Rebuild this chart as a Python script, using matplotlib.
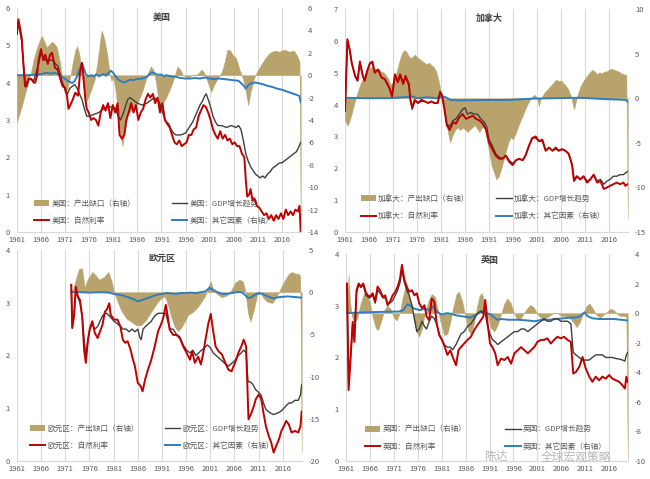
import matplotlib
matplotlib.use("Agg")
import matplotlib.pyplot as plt
from matplotlib.patches import Patch
from matplotlib.lines import Line2D

plt.rcParams['font.family'] = ['Noto Sans CJK SC', 'DejaVu Sans']
plt.rcParams['axes.unicode_minus'] = False

# ---------------- US ----------------
us_rate_x = [1961.0, 1961.3, 1961.6, 1962.0, 1962.4, 1962.7, 1963.0, 1963.4, 1964.0, 1964.5, 1964.8, 1965.2, 1965.5, 1966.0, 1966.5, 1966.9, 1967.4, 1967.9, 1968.3, 1968.9, 1969.5, 1970.0, 1970.5, 1971.0, 1971.4, 1971.7, 1972.1, 1972.6, 1973.1, 1973.7, 1974.1, 1974.5, 1974.8, 1975.2, 1975.5, 1975.9, 1976.4, 1976.9, 1977.4, 1977.9, 1978.4, 1978.9, 1979.4, 1979.9, 1980.4, 1980.9, 1981.4, 1981.9, 1982.3, 1982.8, 1983.3, 1983.7, 1984.2, 1984.7, 1985.2, 1985.7, 1986.2, 1986.7, 1987.2, 1987.7, 1988.2, 1988.7, 1989.2, 1989.7, 1990.2, 1990.7, 1991.2, 1991.7, 1992.2, 1992.7, 1993.2, 1993.7, 1994.2, 1994.7, 1995.2, 1995.7, 1996.2, 1996.7, 1997.2, 1997.7, 1998.2, 1998.7, 1999.2, 1999.7, 2000.2, 2000.7, 2001.2, 2001.7, 2002.2, 2002.7, 2003.2, 2003.7, 2004.2, 2004.7, 2005.2, 2005.7, 2006.2, 2006.7, 2007.2, 2007.7, 2008.2, 2008.5, 2008.8, 2009.2, 2009.5, 2009.9, 2010.3, 2010.8, 2011.3, 2011.8, 2012.3, 2012.8, 2013.3, 2013.8, 2014.3, 2014.8, 2015.3, 2015.8, 2016.3, 2016.8, 2017.3, 2017.8, 2018.3, 2018.8, 2019.3, 2019.65, 2019.9]
us_rate_y = [5.3, 5.7, 5.5, 5.2, 4.4, 3.9, 3.9, 4.1, 4.1, 4.0, 4.0, 4.2, 4.6, 4.9, 4.6, 4.75, 4.5, 4.75, 4.8, 4.4, 4.35, 4.1, 3.9, 3.87, 3.65, 3.3, 3.4, 3.55, 3.73, 3.65, 4.27, 4.53, 4.18, 3.55, 3.3, 3.2, 3.0, 3.05, 3.0, 2.85, 3.2, 3.4, 3.25, 3.45, 3.05, 3.4, 3.2, 3.45, 2.6, 2.5, 2.6, 3.0, 3.2, 3.45, 3.2, 3.4, 3.0, 3.2, 3.3, 3.55, 3.7, 3.6, 3.7, 3.45, 3.6, 3.2, 3.45, 3.0, 2.9, 2.8, 2.6, 2.4, 2.35, 2.45, 2.3, 2.35, 2.4, 2.6, 2.6, 2.75, 2.8, 3.1, 3.25, 3.4, 3.35, 3.2, 3.0, 2.75, 2.6, 2.5, 2.7, 2.5, 2.6, 2.45, 2.5, 2.35, 2.4, 2.3, 2.3, 2.1, 2.0, 1.4, 0.95, 1.0, 1.15, 0.85, 0.9, 0.7, 0.65, 0.55, 0.45, 0.5, 0.35, 0.45, 0.3, 0.45, 0.35, 0.5, 0.35, 0.6, 0.45, 0.55, 0.45, 0.6, 0.55, 0.7, 0.0]

us_gdp_x = [1961.0, 1961.3, 1962.0, 1962.7, 1963.5, 1964.5, 1965.5, 1966.0, 1966.9, 1967.9, 1968.5, 1969.0, 1969.5, 1970.0, 1970.5, 1971.0, 1971.5, 1972.0, 1972.5, 1973.0, 1973.5, 1974.0, 1974.5, 1975.0, 1975.5, 1976.0, 1977.0, 1978.0, 1979.0, 1980.0, 1981.0, 1981.5, 1982.0, 1982.5, 1983.0, 1983.5, 1984.0, 1984.5, 1985.0, 1985.5, 1986.0, 1987.0, 1988.0, 1989.0, 1989.5, 1990.0, 1990.5, 1991.0, 1991.5, 1992.0, 1992.5, 1993.0, 1993.5, 1994.0, 1995.0, 1996.0, 1996.5, 1997.0, 1997.5, 1998.0, 1998.5, 1999.0, 1999.5, 2000.0, 2000.3, 2000.7, 2001.2, 2001.7, 2002.2, 2002.7, 2003.5, 2004.5, 2005.5, 2006.5, 2007.0, 2007.5, 2008.0, 2008.5, 2009.0, 2009.5, 2010.0, 2010.5, 2011.0, 2011.5, 2012.0, 2012.5, 2013.0, 2013.5, 2014.0, 2014.5, 2015.0, 2015.5, 2016.0, 2016.5, 2017.0, 2017.5, 2018.0, 2018.5, 2019.0, 2019.4, 2019.9]
us_gdp_y = [5.3, 5.6, 5.1, 3.95, 4.1, 4.05, 4.5, 4.8, 4.6, 4.6, 4.6, 4.5, 4.45, 4.2, 4.0, 3.8, 3.7, 3.85, 3.9, 3.95, 3.85, 3.7, 3.55, 3.3, 3.1, 3.1, 3.15, 3.2, 3.3, 3.35, 3.35, 3.3, 3.1, 3.0, 3.15, 3.35, 3.55, 3.6, 3.55, 3.5, 3.45, 3.4, 3.45, 3.55, 3.6, 3.55, 3.5, 3.3, 3.1, 2.95, 2.9, 2.75, 2.65, 2.6, 2.6, 2.65, 2.75, 2.85, 2.95, 3.1, 3.25, 3.4, 3.5, 3.65, 3.7, 3.55, 3.35, 3.1, 2.95, 2.85, 2.85, 2.8, 2.85, 2.8, 2.85, 2.75, 2.45, 2.1, 1.9, 1.75, 1.65, 1.55, 1.5, 1.45, 1.5, 1.45, 1.55, 1.6, 1.7, 1.75, 1.8, 1.85, 1.85, 1.9, 1.95, 2.0, 2.05, 2.1, 2.15, 2.25, 2.4]

us_other_x = [1961.0, 1963.0, 1965.0, 1966.0, 1967.0, 1968.0, 1969.0, 1970.0, 1970.5, 1971.0, 1971.5, 1972.0, 1972.5, 1973.0, 1973.5, 1974.0, 1974.5, 1974.8, 1975.3, 1975.8, 1976.5, 1977.0, 1977.5, 1978.0, 1978.5, 1979.0, 1979.5, 1980.0, 1980.5, 1981.0, 1981.5, 1982.0, 1982.5, 1983.0, 1983.5, 1984.0, 1984.5, 1985.0, 1986.0, 1987.0, 1988.0, 1988.5, 1989.0, 1989.5, 1990.0, 1991.0, 1991.5, 1992.0, 1993.0, 1994.0, 1995.0, 1996.0, 1997.0, 1998.0, 1999.0, 2000.0, 2001.0, 2002.0, 2003.0, 2004.0, 2005.0, 2006.0, 2007.0, 2007.5, 2008.0, 2008.5, 2009.0, 2009.5, 2010.0, 2010.5, 2011.0, 2012.0, 2013.0, 2014.0, 2015.0, 2016.0, 2017.0, 2018.0, 2019.0, 2019.6, 2019.9]
us_other_y = [0.0, 0.0, 0.05, 0.1, 0.2, 0.15, 0.2, 0.0, -0.2, -0.3, -0.5, -0.6, -0.7, -0.5, -0.1, 0.5, 1.1, 0.7, 0.1, -0.1, 0.0, -0.1, 0.1, -0.1, 0.0, 0.1, -0.05, 0.2, 0.4, 0.2, -0.1, -0.4, -0.5, -0.65, -0.6, -0.5, -0.4, -0.45, -0.35, -0.3, -0.15, 0.1, 0.25, 0.2, 0.05, 0.05, -0.1, 0.0, -0.1, -0.15, -0.25, -0.3, -0.3, -0.25, -0.3, -0.2, -0.3, -0.35, -0.3, -0.35, -0.4, -0.45, -0.5, -0.7, -0.9, -1.2, -0.9, -0.75, -0.7, -0.65, -0.7, -0.8, -0.95, -1.05, -1.2, -1.3, -1.45, -1.6, -1.75, -1.85, -2.4]

us_gap_x = [1961.0, 1961.5, 1962.0, 1962.5, 1963.0, 1963.8, 1964.5, 1965.2, 1965.8, 1966.2, 1966.7, 1967.2, 1967.8, 1968.3, 1968.8, 1969.3, 1970.0, 1970.5, 1970.9, 1971.5, 1972.0, 1972.6, 1973.1, 1973.5, 1974.0, 1974.5, 1975.2, 1975.8, 1976.5, 1977.2, 1977.8, 1978.3, 1978.6, 1979.1, 1979.7, 1980.2, 1980.6, 1981.0, 1981.5, 1982.0, 1982.5, 1982.9, 1983.3, 1984.0, 1985.0, 1986.0, 1987.0, 1987.7, 1988.3, 1988.8, 1989.3, 1989.8, 1990.3, 1990.8, 1991.3, 1992.0, 1993.0, 1993.8, 1994.3, 1994.9, 1995.5, 1996.5, 1997.5, 1998.5, 1999.3, 1999.8, 2000.5, 2001.3, 2002.0, 2002.8, 2003.5, 2004.0, 2004.7, 2005.3, 2005.8, 2006.5, 2007.2, 2007.7, 2008.3, 2009.0, 2009.5, 2010.2, 2010.8, 2011.5, 2012.5, 2013.5, 2014.5, 2015.5, 2016.5, 2017.5, 2018.5, 2019.2, 2019.65, 2019.9]
us_gap_y = [-4.2, -3.5, -2.8, -2.0, -1.2, 0.0, 1.5, 2.5, 3.2, 3.5, 3.0, 2.5, 2.8, 3.0, 2.8, 2.5, 1.0, -0.5, -1.6, -1.2, -0.3, 1.2, 2.2, 2.6, 1.8, 0.0, -2.5, -2.0, -1.2, -0.3, 1.5, 3.2, 4.0, 3.3, 2.0, 0.3, -0.5, -0.2, -1.5, -3.5, -5.5, -6.3, -5.2, -3.5, -3.0, -2.5, -1.5, -0.5, 0.3, 0.8, 0.5, -0.5, -2.0, -2.8, -2.5, -2.0, -1.0, 0.0, 0.8, 0.5, 0.0, -0.2, 0.0, 0.1, 0.5, 0.3, -0.5, -1.5, -0.8, -0.2, 0.3, 1.0, 2.3, 2.2, 1.8, 1.5, 0.5, 0.0, -1.0, -2.7, -1.5, -0.3, 0.3, 0.8, 1.5, 2.0, 2.2, 2.1, 2.3, 2.1, 2.2, 1.7, 1.2, -14.0]

# ---------------- Canada ----------------
ca_rate_x = [1961.0, 1961.5, 1962.0, 1962.4, 1963.1, 1963.6, 1964.1, 1964.7, 1965.1, 1965.6, 1966.2, 1966.7, 1967.2, 1967.9, 1968.6, 1969.3, 1970.3, 1970.8, 1971.4, 1972.0, 1972.5, 1973.1, 1973.6, 1974.3, 1974.6, 1975.0, 1975.5, 1976.2, 1976.9, 1977.6, 1978.3, 1979.0, 1979.6, 1980.3, 1980.8, 1981.2, 1981.7, 1982.2, 1982.8, 1983.5, 1984.1, 1984.8, 1985.5, 1986.2, 1986.9, 1987.6, 1988.3, 1989.0, 1989.7, 1990.4, 1991.0, 1991.7, 1992.4, 1993.1, 1993.8, 1994.5, 1995.2, 1995.9, 1996.6, 1997.3, 1998.0, 1998.6, 1999.3, 2000.0, 2000.7, 2001.4, 2002.1, 2002.8, 2003.5, 2004.2, 2004.9, 2005.5, 2006.2, 2006.9, 2007.6, 2008.3, 2008.7, 2009.3, 2010.0, 2010.7, 2011.4, 2012.1, 2012.8, 2013.5, 2014.2, 2014.9, 2015.6, 2016.2, 2016.9, 2017.6, 2018.3, 2019.0, 2019.4, 2019.9]
ca_rate_y = [3.8, 6.05, 5.7, 5.3, 4.9, 4.75, 5.35, 4.9, 4.75, 5.05, 5.3, 5.35, 5.0, 5.1, 4.85, 4.8, 4.5, 4.25, 4.95, 4.7, 4.95, 4.65, 4.9, 4.65, 4.15, 3.9, 4.15, 4.05, 4.15, 4.1, 4.05, 4.1, 4.05, 4.05, 4.4, 4.3, 3.85, 3.35, 3.2, 3.45, 3.4, 3.6, 3.7, 3.55, 3.6, 3.65, 3.55, 3.5, 3.4, 3.2, 2.8, 2.6, 2.4, 2.3, 2.3, 2.4, 2.2, 2.1, 2.25, 2.3, 2.25, 2.4, 2.7, 2.95, 3.0, 2.85, 2.9, 2.55, 2.65, 2.55, 2.65, 2.55, 2.6, 2.55, 2.45, 2.1, 1.6, 1.75, 1.65, 1.75, 1.55, 1.65, 1.8, 1.55, 1.6, 1.35, 1.4, 1.45, 1.5, 1.55, 1.5, 1.55, 1.45, 1.5]

ca_gdp_x = [1961.0, 1961.5, 1962.0, 1962.4, 1963.1, 1963.6, 1964.1, 1964.7, 1965.1, 1965.6, 1966.2, 1966.7, 1967.2, 1967.9, 1968.6, 1969.3, 1970.3, 1970.8, 1971.4, 1972.0, 1972.5, 1973.1, 1973.6, 1974.3, 1974.6, 1975.0, 1975.5, 1976.2, 1976.9, 1977.6, 1978.3, 1979.0, 1979.6, 1980.3, 1980.8, 1981.2, 1981.7, 1982.2, 1982.8, 1983.5, 1984.1, 1984.8, 1985.5, 1986.0, 1986.5, 1987.2, 1987.9, 1988.6, 1989.3, 1990.0, 1990.5, 1991.0, 1991.7, 1992.4, 1993.1, 1993.8, 1994.5, 1995.2, 1995.9, 1996.6, 1997.3, 1998.0, 1998.6, 1999.3, 2000.0, 2000.7, 2001.4, 2002.1, 2002.8, 2003.5, 2004.2, 2004.9, 2005.5, 2006.2, 2006.9, 2007.6, 2008.3, 2008.7, 2009.3, 2010.0, 2010.7, 2011.4, 2012.1, 2012.8, 2013.5, 2014.2, 2014.9, 2015.6, 2016.2, 2016.9, 2017.6, 2018.3, 2019.0, 2019.4, 2019.9]
ca_gdp_y = [3.8, 6.0, 5.7, 5.3, 4.9, 4.75, 5.3, 4.9, 4.75, 5.05, 5.3, 5.3, 5.0, 5.1, 4.85, 4.8, 4.5, 4.3, 4.9, 4.7, 4.9, 4.65, 4.85, 4.6, 4.2, 3.85, 4.1, 4.05, 4.1, 4.1, 4.05, 4.1, 4.05, 4.05, 4.35, 4.3, 3.9, 3.4, 3.3, 3.5, 3.55, 3.7, 3.85, 3.9, 3.7, 3.75, 3.7, 3.7, 3.55, 3.45, 3.3, 2.9, 2.7, 2.45, 2.35, 2.3, 2.4, 2.25, 2.15, 2.25, 2.3, 2.25, 2.4, 2.7, 2.95, 2.95, 2.85, 2.85, 2.55, 2.65, 2.55, 2.6, 2.55, 2.6, 2.55, 2.45, 2.1, 1.65, 1.75, 1.65, 1.75, 1.6, 1.65, 1.8, 1.6, 1.65, 1.5, 1.6, 1.65, 1.75, 1.75, 1.8, 1.8, 1.85, 1.9]

ca_other_x = [1961.0, 1965.0, 1970.0, 1973.0, 1975.0, 1976.0, 1978.0, 1980.0, 1981.0, 1982.0, 1983.0, 1985.0, 1990.0, 1995.0, 2000.0, 2005.0, 2010.0, 2015.0, 2018.0, 2019.5, 2019.9]
ca_other_y = [0.05, 0.0, 0.0, 0.1, 0.2, 0.0, 0.1, 0.0, 0.2, 0.1, -0.2, -0.25, -0.2, -0.2, -0.05, 0.0, 0.05, -0.1, -0.15, -0.2, -0.4]

ca_gap_x = [1961.0, 1961.5, 1962.0, 1962.5, 1963.0, 1963.5, 1964.0, 1964.5, 1965.0, 1965.5, 1966.0, 1966.5, 1967.0, 1967.5, 1968.0, 1968.5, 1969.0, 1969.5, 1970.0, 1970.5, 1971.0, 1971.5, 1972.0, 1972.5, 1973.0, 1973.4, 1973.8, 1974.2, 1974.6, 1975.0, 1975.5, 1976.0, 1976.5, 1977.0, 1977.5, 1978.0, 1978.5, 1979.0, 1979.5, 1980.0, 1980.5, 1981.0, 1981.3, 1981.7, 1982.0, 1982.5, 1982.9, 1983.3, 1984.0, 1984.5, 1985.0, 1985.5, 1986.0, 1986.5, 1987.0, 1987.5, 1988.0, 1988.5, 1989.0, 1989.5, 1990.0, 1990.5, 1991.0, 1991.5, 1992.0, 1992.5, 1993.0, 1993.5, 1994.0, 1994.5, 1995.0, 1995.5, 1996.0, 1996.5, 1997.0, 1997.5, 1998.0, 1998.5, 1999.0, 1999.5, 2000.0, 2000.5, 2001.0, 2001.4, 2001.8, 2002.5, 2003.0, 2003.5, 2004.0, 2004.5, 2005.0, 2005.5, 2006.0, 2006.5, 2007.0, 2007.5, 2008.0, 2008.4, 2008.7, 2009.0, 2009.5, 2010.0, 2010.5, 2011.0, 2011.5, 2012.0, 2012.5, 2013.0, 2013.5, 2014.0, 2014.5, 2015.0, 2015.5, 2016.0, 2016.5, 2017.0, 2017.5, 2018.0, 2018.5, 2019.0, 2019.6, 2019.9]
ca_gap_y = [-2.5, -3.1, -2.5, -1.5, -0.5, 0.5, 1.3, 2.0, 2.5, 3.0, 3.4, 3.5, 3.3, 3.3, 3.2, 3.0, 2.9, 2.6, 2.2, 1.5, 1.8, 2.5, 3.5, 4.5, 5.2, 5.4, 5.2, 4.8, 4.5, 4.6, 4.9, 4.6, 4.4, 4.2, 4.0, 3.8, 4.0, 3.7, 3.5, 3.0, 2.0, 0.5, 0.0, -1.0, -2.5, -4.0, -5.0, -4.3, -3.5, -3.3, -3.6, -3.3, -3.5, -3.8, -3.5, -3.3, -3.0, -3.4, -3.8, -3.3, -3.2, -4.5, -6.0, -7.5, -8.3, -9.1, -8.8, -8.0, -7.0, -6.0, -5.0, -4.4, -4.6, -4.0, -3.3, -2.6, -2.0, -1.3, -0.7, -0.2, 0.2, 0.4, 0.0, -0.9, 0.0, 0.6, 0.9, 1.2, 1.5, 1.8, 2.1, 1.9, 2.0, 1.7, 1.4, 1.0, 0.3, -0.6, -1.3, -0.6, 0.5, 1.3, 1.8, 2.2, 2.6, 2.9, 3.2, 3.0, 2.7, 2.9, 2.8, 3.0, 3.0, 3.2, 3.3, 3.2, 3.1, 3.0, 2.8, 2.7, 2.6, -13.5]

# ---------------- Euro area ----------------
ea_rate_x = [1972.25, 1972.45, 1972.8, 1973.2, 1973.6, 1974.05, 1974.5, 1974.9, 1975.25, 1975.7, 1976.1, 1976.6, 1977.1, 1977.7, 1978.2, 1978.7, 1979.2, 1979.6, 1980.1, 1980.4, 1981.1, 1981.8, 1982.4, 1982.9, 1983.4, 1983.9, 1984.5, 1985.0, 1985.4, 1986.0, 1986.6, 1987.0, 1987.5, 1988.1, 1988.8, 1989.5, 1990.2, 1990.9, 1991.35, 1991.8, 1992.1, 1992.6, 1993.3, 1994.0, 1994.7, 1995.4, 1996.1, 1996.8, 1997.25, 1997.8, 1998.5, 1999.05, 1999.5, 2000.0, 2000.6, 2001.1, 2001.6, 2002.1, 2002.7, 2003.4, 2004.1, 2004.75, 2005.4, 2006.1, 2006.8, 2007.4, 2007.9, 2008.4, 2008.9, 2009.5, 2010.0, 2010.4, 2011.0, 2011.55, 2012.0, 2012.5, 2013.1, 2013.6, 2014.1, 2014.6, 2015.2, 2015.7, 2016.2, 2016.7, 2017.25, 2017.8, 2018.5, 2019.2, 2019.65, 2019.9]
ea_rate_y = [3.34, 2.52, 2.74, 3.3, 3.12, 3.05, 2.74, 2.11, 1.86, 2.3, 2.52, 2.65, 2.43, 2.33, 2.46, 2.58, 2.83, 2.87, 2.99, 2.77, 2.68, 2.68, 2.55, 2.3, 2.24, 2.27, 2.11, 1.92, 1.8, 1.48, 1.42, 1.32, 1.54, 1.73, 1.92, 2.17, 2.46, 2.61, 2.74, 2.96, 2.8, 2.49, 2.39, 2.39, 2.33, 2.17, 2.05, 1.92, 2.08, 1.86, 1.98, 1.83, 2.02, 2.3, 2.61, 2.79, 2.46, 2.17, 2.08, 2.02, 1.86, 1.73, 1.7, 1.86, 2.05, 2.17, 2.3, 2.17, 0.79, 0.91, 1.04, 1.17, 1.26, 1.17, 0.91, 0.66, 0.47, 0.35, 0.16, 0.28, 0.41, 0.57, 0.66, 0.76, 0.69, 0.54, 0.57, 0.54, 0.66, 0.94]

ea_gdp_x = [1972.25, 1972.45, 1972.8, 1973.2, 1973.6, 1974.05, 1974.5, 1974.9, 1975.25, 1975.7, 1976.1, 1976.6, 1977.1, 1977.7, 1978.2, 1978.7, 1979.2, 1979.6, 1980.1, 1980.6, 1981.1, 1981.8, 1982.4, 1983.0, 1983.6, 1984.2, 1984.8, 1985.4, 1986.0, 1986.4, 1986.7, 1987.1, 1987.6, 1988.2, 1988.8, 1989.5, 1990.2, 1990.9, 1991.4, 1991.8, 1992.2, 1992.7, 1993.3, 1994.0, 1994.7, 1995.4, 1996.1, 1996.8, 1997.4, 1998.0, 1998.6, 1999.2, 1999.8, 2000.4, 2001.0, 2001.6, 2002.2, 2002.8, 2003.4, 2004.0, 2004.8, 2005.4, 2006.1, 2006.8, 2007.4, 2007.9, 2008.4, 2008.8, 2009.3, 2009.8, 2010.4, 2011.0, 2011.5, 2012.0, 2012.5, 2013.1, 2013.6, 2014.1, 2014.7, 2015.2, 2015.7, 2016.2, 2016.7, 2017.3, 2017.8, 2018.5, 2019.2, 2019.65, 2019.9]
ea_gdp_y = [3.34, 2.55, 2.75, 3.25, 3.1, 3.0, 2.75, 2.3, 2.0, 2.3, 2.5, 2.6, 2.5, 2.55, 2.65, 2.75, 2.8, 2.8, 2.75, 2.7, 2.65, 2.6, 2.55, 2.5, 2.5, 2.45, 2.5, 2.45, 2.5, 2.35, 2.3, 2.5, 2.55, 2.6, 2.65, 2.75, 2.8, 2.8, 2.8, 2.8, 2.65, 2.5, 2.5, 2.4, 2.35, 2.2, 2.1, 2.05, 2.1, 2.0, 2.05, 2.1, 2.15, 2.2, 2.15, 2.05, 2.0, 1.95, 1.9, 1.85, 1.8, 1.85, 1.9, 2.0, 2.05, 2.1, 2.05, 1.5, 1.5, 1.45, 1.35, 1.3, 1.25, 1.1, 0.98, 0.93, 0.9, 0.88, 0.9, 0.92, 0.95, 1.0, 1.05, 1.1, 1.1, 1.15, 1.15, 1.25, 1.45]

ea_other_x = [1972.25, 1974.0, 1976.0, 1978.0, 1980.0, 1981.0, 1982.0, 1983.0, 1984.0, 1985.0, 1986.0, 1987.0, 1988.0, 1989.0, 1990.0, 1991.0, 1992.0, 1993.0, 1994.0, 1995.0, 1996.0, 1997.0, 1998.0, 1999.0, 2000.0, 2000.8, 2001.5, 2002.5, 2003.5, 2004.5, 2005.5, 2006.5, 2007.5, 2008.3, 2008.8, 2009.5, 2010.2, 2011.0, 2011.8, 2012.5, 2013.3, 2014.2, 2015.0, 2016.0, 2017.0, 2018.0, 2019.0, 2019.9]
ea_other_y = [0.0, 0.0, -0.05, 0.0, -0.05, -0.2, -0.3, -0.4, -0.6, -0.8, -1.1, -0.9, -0.7, -0.5, -0.3, -0.2, -0.1, -0.15, -0.2, -0.1, -0.1, -0.05, -0.1, 0.0, 0.1, 0.5, 0.3, 0.0, -0.2, -0.2, -0.1, 0.0, 0.0, -0.4, -0.7, -0.6, -0.3, -0.1, -0.2, -0.4, -0.6, -0.75, -0.6, -0.55, -0.5, -0.55, -0.6, -0.65]

ea_gap_x = [1972.25, 1972.6, 1973.15, 1973.85, 1974.5, 1975.0, 1975.7, 1976.6, 1977.3, 1978.0, 1979.0, 1979.9, 1980.6, 1981.1, 1981.8, 1982.5, 1983.6, 1984.6, 1985.65, 1986.7, 1987.7, 1988.8, 1989.5, 1990.2, 1990.9, 1991.6, 1992.25, 1992.9, 1993.6, 1994.3, 1995.0, 1995.7, 1996.4, 1997.5, 1998.5, 1999.2, 1999.9, 2000.6, 2001.1, 2001.6, 2002.3, 2003.4, 2004.4, 2005.4, 2006.1, 2007.0, 2007.7, 2008.2, 2008.8, 2009.3, 2010.0, 2010.7, 2011.35, 2012.0, 2012.7, 2013.8, 2014.5, 2015.2, 2015.9, 2016.6, 2017.25, 2017.9, 2018.6, 2019.3, 2019.6, 2019.9]
ea_gap_y = [0.0, 0.3, 1.5, 2.8, 2.8, 0.6, 1.6, 2.4, 2.0, 1.5, 1.8, 2.4, 1.3, 0.0, -1.1, -2.1, -3.1, -3.5, -3.9, -3.9, -3.3, -2.3, -1.7, -1.1, -0.7, -0.5, -1.5, -2.9, -4.1, -4.6, -4.2, -3.5, -2.7, -2.3, -1.7, -1.1, -0.5, 0.7, 1.3, 0.3, -0.2, -0.6, -0.4, 0.3, 1.1, 1.5, 1.3, 0.3, -2.5, -3.5, -2.1, -0.3, -0.1, -0.7, -1.1, -1.3, -0.7, 0.0, 0.9, 1.6, 2.2, 2.4, 2.2, 2.2, 1.9, -19.0]

# ---------------- UK ----------------
uk_rate_x = [1961.0, 1961.2, 1961.55, 1962.05, 1962.4, 1962.75, 1963.2, 1963.65, 1964.1, 1964.6, 1965.2, 1965.9, 1966.6, 1967.1, 1967.6, 1968.1, 1968.7, 1969.2, 1969.7, 1970.2, 1970.75, 1971.3, 1971.8, 1972.3, 1972.7, 1973.2, 1973.7, 1974.2, 1974.8, 1975.3, 1975.8, 1976.3, 1976.9, 1977.4, 1977.85, 1978.4, 1978.9, 1979.45, 1979.95, 1980.5, 1981.05, 1981.5, 1982.2, 1982.8, 1983.3, 1984.0, 1984.5, 1985.0, 1985.7, 1986.4, 1987.1, 1987.8, 1988.5, 1989.2, 1989.7, 1990.1, 1990.6, 1991.1, 1991.6, 1992.2, 1992.7, 1993.4, 1994.1, 1994.8, 1995.5, 1996.2, 1996.9, 1997.6, 1998.3, 1999.0, 1999.65, 2000.35, 2001.0, 2001.75, 2002.4, 2003.1, 2003.8, 2004.5, 2005.2, 2005.9, 2006.6, 2007.3, 2008.0, 2008.5, 2009.05, 2009.75, 2010.45, 2011.1, 2011.85, 2012.5, 2013.2, 2013.9, 2014.6, 2015.3, 2016.0, 2016.7, 2017.4, 2018.1, 2018.8, 2019.3, 2019.6, 2019.9]
uk_rate_y = [3.43, 3.43, 1.37, 2.14, 2.69, 2.3, 3.3, 3.43, 3.37, 3.43, 3.24, 3.17, 3.24, 3.08, 3.37, 3.3, 3.17, 3.2, 3.01, 3.08, 3.2, 3.27, 3.37, 3.53, 3.79, 3.5, 3.37, 3.27, 3.3, 3.2, 3.24, 3.05, 2.95, 3.01, 2.79, 2.72, 3.14, 3.08, 2.66, 2.43, 2.34, 2.24, 2.05, 2.14, 2.01, 1.85, 2.14, 2.2, 2.27, 2.34, 2.4, 2.53, 2.63, 2.72, 2.79, 3.11, 2.66, 2.27, 2.2, 2.08, 1.85, 1.98, 1.95, 2.01, 1.88, 2.08, 2.14, 2.2, 2.14, 2.08, 2.14, 2.2, 2.3, 2.34, 2.34, 2.37, 2.27, 2.34, 2.4, 2.37, 2.4, 2.34, 2.3, 1.69, 1.72, 1.82, 2.01, 1.79, 1.63, 1.53, 1.63, 1.56, 1.63, 1.59, 1.66, 1.59, 1.56, 1.53, 1.46, 1.4, 1.63, 1.53]

uk_gdp_x = [1961.0, 1961.2, 1961.55, 1962.05, 1962.4, 1962.75, 1963.2, 1963.65, 1964.1, 1964.6, 1965.2, 1965.9, 1966.6, 1967.1, 1967.6, 1968.1, 1968.7, 1969.2, 1969.7, 1970.2, 1970.75, 1971.3, 1971.8, 1972.3, 1972.7, 1973.2, 1973.7, 1974.2, 1974.8, 1975.3, 1975.8, 1976.3, 1976.9, 1977.4, 1977.85, 1978.4, 1978.9, 1979.45, 1979.95, 1980.5, 1981.05, 1981.5, 1982.2, 1982.8, 1983.3, 1984.0, 1984.5, 1985.0, 1985.7, 1986.4, 1987.1, 1987.8, 1988.5, 1989.2, 1989.7, 1990.1, 1990.6, 1991.1, 1991.6, 1992.2, 1992.7, 1993.4, 1994.1, 1994.8, 1995.5, 1996.2, 1996.9, 1997.6, 1998.3, 1999.0, 1999.65, 2000.35, 2001.0, 2001.75, 2002.4, 2003.1, 2003.8, 2004.5, 2005.2, 2005.9, 2006.6, 2007.3, 2008.0, 2008.5, 2009.05, 2009.75, 2010.45, 2011.1, 2011.85, 2012.5, 2013.2, 2013.9, 2014.6, 2015.3, 2016.0, 2016.7, 2017.4, 2018.1, 2018.8, 2019.3, 2019.6, 2019.9]
uk_gdp_y = [3.43, 3.4, 1.45, 2.14, 2.65, 2.35, 3.25, 3.4, 3.35, 3.4, 3.2, 3.15, 3.2, 3.05, 3.3, 3.25, 3.15, 3.15, 3.05, 3.05, 3.1, 3.2, 3.3, 3.45, 3.7, 3.45, 3.3, 3.2, 3.0, 2.75, 2.5, 2.55, 2.7, 2.6, 2.55, 2.7, 2.8, 2.75, 2.65, 2.45, 2.35, 2.25, 2.2, 2.2, 2.15, 2.25, 2.35, 2.45, 2.5, 2.6, 2.65, 2.75, 2.85, 2.9, 2.85, 2.85, 2.6, 2.45, 2.35, 2.3, 2.25, 2.3, 2.35, 2.4, 2.45, 2.5, 2.5, 2.55, 2.55, 2.5, 2.55, 2.6, 2.65, 2.7, 2.75, 2.7, 2.7, 2.75, 2.75, 2.7, 2.7, 2.7, 2.65, 2.1, 2.05, 2.0, 1.95, 1.95, 1.95, 2.0, 2.05, 2.05, 2.05, 2.0, 2.0, 2.0, 1.98, 1.97, 1.95, 1.93, 2.05, 2.1]

uk_other_x = [1961.0, 1965.0, 1970.0, 1972.0, 1973.0, 1973.8, 1974.5, 1975.3, 1976.5, 1977.5, 1978.5, 1979.3, 1980.0, 1981.0, 1982.0, 1983.0, 1984.0, 1985.0, 1986.0, 1987.0, 1988.0, 1989.0, 1989.7, 1990.5, 1991.3, 1992.0, 1992.7, 1993.5, 1995.0, 1997.0, 1999.0, 2000.5, 2002.0, 2003.5, 2005.0, 2006.5, 2008.0, 2009.0, 2010.0, 2010.8, 2011.5, 2012.5, 2014.0, 2015.5, 2017.0, 2018.5, 2019.9]
uk_other_y = [0.0, 0.05, 0.1, 0.1, 0.2, 0.6, 0.5, 0.3, 0.2, 0.3, 0.2, 0.45, 0.1, -0.1, 0.0, -0.05, -0.15, -0.2, -0.25, -0.3, -0.15, 0.05, 0.15, 0.0, -0.1, -0.3, -0.45, -0.4, -0.45, -0.45, -0.5, -0.55, -0.45, -0.45, -0.4, -0.35, -0.3, -0.3, -0.2, 0.05, -0.2, -0.35, -0.4, -0.4, -0.4, -0.45, -0.5]

uk_gap_x = [1961.0, 1961.3, 1961.55, 1961.8, 1962.2, 1962.8, 1963.4, 1964.0, 1964.7, 1965.3, 1966.0, 1966.6, 1967.2, 1967.7, 1968.3, 1969.0, 1969.6, 1970.3, 1971.0, 1971.6, 1972.2, 1972.8, 1973.4, 1974.0, 1974.6, 1975.2, 1975.8, 1976.3, 1976.9, 1977.5, 1978.2, 1978.9, 1979.6, 1980.2, 1980.9, 1981.5, 1982.2, 1982.8, 1983.4, 1984.1, 1984.6, 1985.3, 1986.0, 1986.6, 1987.1, 1987.7, 1988.3, 1988.9, 1989.4, 1990.0, 1990.7, 1991.3, 1992.0, 1992.7, 1993.4, 1994.0, 1994.7, 1995.4, 1996.0, 1996.7, 1997.4, 1998.0, 1998.8, 1999.5, 2000.2, 2000.9, 2001.6, 2002.5, 2003.4, 2004.3, 2005.2, 2006.0, 2006.8, 2007.6, 2008.5, 2009.2, 2009.9, 2010.6, 2011.3, 2011.9, 2012.6, 2013.3, 2014.1, 2014.9, 2015.6, 2016.3, 2017.0, 2017.8, 2018.5, 2019.2, 2019.6, 2019.9]
uk_gap_y = [0.0, 1.5, 2.6, 1.0, -0.2, -0.7, -0.3, 0.6, 1.3, 1.4, 0.7, -0.3, -1.0, -1.15, -0.6, 0.2, 0.5, 0.3, -0.3, -0.5, 0.0, 1.0, 1.8, 1.5, 0.6, -0.5, -1.3, -1.6, -1.0, 0.0, 0.8, 1.3, 1.1, 0.2, -0.8, -1.5, -1.4, -0.6, 0.4, 1.3, 1.45, 0.8, -0.3, -1.2, -1.4, -0.8, 0.3, 1.2, 1.35, 0.7, -0.3, -1.0, -1.25, -0.8, -0.1, 0.6, 1.0, 0.7, 0.1, -0.4, -0.4, -0.1, 0.3, 0.55, 0.4, 0.0, -0.3, -0.4, -0.2, 0.0, 0.0, -0.2, -0.2, -0.3, -0.6, -0.95, -0.6, 0.0, 0.5, 0.65, 0.3, -0.1, -0.3, -0.1, 0.1, 0.3, 0.2, -0.1, -0.2, -0.2, -0.3, -10.0]

year_ticks = [1961, 1966, 1971, 1976, 1981, 1986, 1991, 1996, 2001, 2006, 2011, 2016]

TAN = '#B8A36C'
RED = '#C00000'
DARK = '#3F3F3F'
BLUE = '#2F7DC0'
GRID = '#D9D9D9'
TXT = '#595959'

fig = plt.figure(figsize=(6.5, 4.79), dpi=100)
fig.patch.set_facecolor('white')


def panel(rect, name, rate_x, rate_y, gdp_x, gdp_y, other_x, other_y, gap_x, gap_y,
          lyl, lyt, ryl, ryt, leg_x, leg_y, title_y):
    ax2 = fig.add_axes(rect)             # right-axis series (drawn underneath)
    ax = fig.add_axes(rect, sharex=ax2)  # left-axis series on top
    ax.patch.set_visible(False)
    ax2.yaxis.tick_right()
    ax2.yaxis.set_label_position('right')

    ax2.fill_between(gap_x, gap_y, 0, color=TAN, linewidth=0.3, edgecolor=TAN, zorder=2)
    ax2.plot(other_x, other_y, color=BLUE, lw=1.4, zorder=3)
    ax.plot(gdp_x, gdp_y, color=DARK, lw=1.0, zorder=3)
    ax.plot(rate_x, rate_y, color=RED, lw=1.4, zorder=4)

    ax.set_xlim(1961, 2019.95)
    ax.set_ylim(*lyl)
    ax.set_yticks(lyt)
    ax2.set_ylim(*ryl)
    ax2.set_yticks(ryt)
    ax2.set_xticks(year_ticks)
    ax2.set_xticklabels([str(y) for y in year_ticks])
    ax2.grid(True, axis='x', color=GRID, lw=0.8, zorder=0)
    ax2.set_axisbelow(True)
    ax.tick_params(axis='x', labelbottom=False, length=0)
    ax2.tick_params(axis='x', length=0, labelsize=5.5, labelcolor=TXT, pad=3)
    ax.tick_params(axis='y', length=0, labelsize=5.5, labelcolor=TXT, pad=5)
    ax2.tick_params(axis='y', length=0, labelsize=5.5, labelcolor=TXT, pad=5)
    for a in (ax, ax2):
        for s in ('top', 'left', 'right'):
            a.spines[s].set_visible(False)
        a.spines['bottom'].set_color(GRID)
        a.spines['bottom'].set_linewidth(0.8)

    ax2.text(0.51, title_y, name, transform=ax2.transAxes, ha='center', va='center',
             fontsize=6.5, color='#404040', fontweight='bold')

    h_gap = Patch(facecolor=TAN, edgecolor='none')
    h_rate = Line2D([], [], color=RED, lw=1.4)
    h_gdp = Line2D([], [], color=DARK, lw=1.0)
    h_oth = Line2D([], [], color=BLUE, lw=1.4)
    kw = dict(frameon=False, fontsize=5.5, labelcolor=TXT, handlelength=2.0,
              handleheight=0.8, handletextpad=0.3, labelspacing=1.25,
              loc='upper left', borderaxespad=0, borderpad=0)
    l1 = ax2.legend([h_gap, h_rate], [name + '：产出缺口（右轴）', name + '：自然利率'],
                    bbox_to_anchor=(leg_x[0], leg_y), **kw)
    ax2.add_artist(l1)
    ax2.legend([h_gdp, h_oth], [name + '：GDP增长趋势', name + '：其它因素（右轴）'],
               bbox_to_anchor=(leg_x[1], leg_y), **kw)
    return ax, ax2


panel([0.026, 0.5157, 0.437, 0.4676], '美国', us_rate_x, us_rate_y, us_gdp_x, us_gdp_y,
      us_other_x, us_other_y, us_gap_x, us_gap_y,
      (0, 6), range(0, 7), (-14, 6), range(-14, 7, 2), (0.06, 0.545), 0.145, 0.96)

panel([0.5308, 0.5157, 0.4354, 0.4655], '加拿大', ca_rate_x, ca_rate_y, ca_gdp_x, ca_gdp_y,
      ca_other_x, ca_other_y, ca_gap_x, ca_gap_y,
      (0, 7), range(0, 8), (-15, 10), range(-15, 11, 5), (0.055, 0.535), 0.168, 0.96)

panel([0.026, 0.0376, 0.4385, 0.4405], '欧元区', ea_rate_x, ea_rate_y, ea_gdp_x, ea_gdp_y,
      ea_other_x, ea_other_y, ea_gap_x, ea_gap_y,
      (0, 4), range(0, 5), (-20, 5), range(-20, 6, 5), (0.045, 0.52), 0.172, 0.96)

panel([0.5323, 0.0376, 0.4339, 0.4322], '英国', uk_rate_x, uk_rate_y, uk_gdp_x, uk_gdp_y,
      uk_other_x, uk_other_y, uk_gap_x, uk_gap_y,
      (0, 4), range(0, 5), (-10, 4), range(-10, 5, 2), (0.068, 0.565), 0.172, 0.97)

fig.text(0.745, 0.046, '陈达', fontsize=8.5, color='#9A9A9A', alpha=0.7, va='center')
fig.text(0.832, 0.046, '全球宏观策略', fontsize=8.5, color='#9A9A9A', alpha=0.7, va='center')

fig.savefig('out.png', dpi=100, facecolor='white')
